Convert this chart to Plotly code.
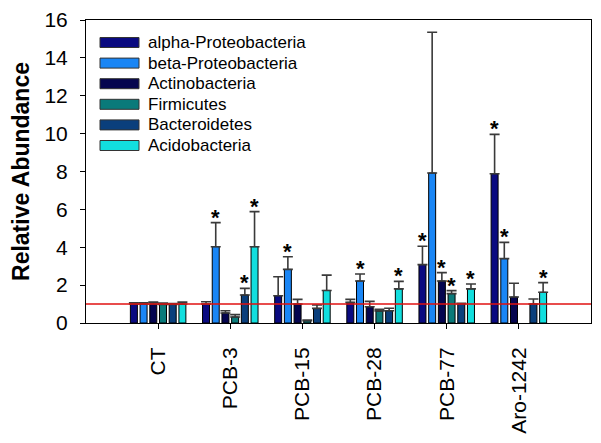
import plotly.graph_objects as go

categories = ["CT", "PCB-3", "PCB-15", "PCB-28", "PCB-77", "Aro-1242"]
series_names = ["alpha-Proteobacteria", "beta-Proteobacteria", "Actinobacteria",
                "Firmicutes", "Bacteroidetes", "Acidobacteria"]
colors = ["#0a0a80", "#1a86f5", "#05054f", "#0a7a7a", "#0a3f7c", "#12dede"]

alpha_vals = [1.0, 1.0, 1.44, 1.09, 3.08, 7.88]
alpha_err = [0.07, 0.12, 1.0, 0.16, 0.97, 2.08]
beta_vals = [1.0, 4.03, 2.83, 2.22, 7.92, 3.40]
beta_err = [0.07, 1.27, 0.67, 0.37, 7.43, 0.86]
actino_vals = [1.0, 0.53, 1.0, 0.86, 2.22, 1.37]
actino_err = [0.1, 0.12, 0.25, 0.28, 0.44, 0.73]
firm_vals = [0.98, 0.32, 0.12, 0.63, 1.55, None]
firm_err = [0.07, 0.12, 0.04, 0.09, 0.16, None]
bact_vals = [0.98, 1.48, 0.77, 0.65, 1.02, 1.0]
bact_err = [0.05, 0.35, 0.18, 0.13, 0.02, 0.27]
acido_vals = [1.0, 4.03, 1.72, 1.80, 1.80, 1.62]
acido_err = [0.1, 1.85, 0.81, 0.40, 0.26, 0.51]

values = [alpha_vals, beta_vals, actino_vals, firm_vals, bact_vals, acido_vals]
errors = [alpha_err, beta_err, actino_err, firm_err, bact_err, acido_err]

# significance stars: (series index, category index)
stars = [(1, 1), (4, 1), (5, 1), (1, 2), (1, 3), (5, 3),
         (0, 4), (2, 4), (3, 4), (5, 4), (0, 5), (1, 5), (5, 5)]

y_ticks = [0, 2, 4, 6, 8, 10, 12, 14, 16]
reference_level = 1

FONT = "Arial, Liberation Sans, sans-serif"
OFF = 8  # default page body margin
W, H = 601 - OFF, 443 - OFF
L, T = 86 - OFF, 20 - OFF
R = W - (591 - OFF)
B = H - (323 - OFF)
PW, PH = W - L - R, H - T - B

fig = go.Figure()
for name, col, vals, errs in zip(series_names, colors, values, errors):
    fig.add_trace(go.Bar(
        x=categories, y=vals, name=name,
        marker=dict(color=col, line=dict(color="black", width=1)),
        error_y=dict(type="data", array=errs, symmetric=False,
                     arrayminus=[0] * len(errs), color="#3a3a3a",
                     thickness=1.6, width=5),
        showlegend=False,
    ))

pitch = (1 - 0.193) * (PW / 7) / 6
annotations = []
for si, ci in stars:
    annotations.append(dict(
        x=categories[ci], y=values[si][ci] + errors[si][ci],
        xref="x", yref="y", text="<b>*</b>", showarrow=False,
        xshift=(si - 2.5) * pitch, yshift=-9, yanchor="bottom",
        font=dict(family=FONT, size=22, color="black"),
    ))

# manual legend (page pixel coords -> paper)
shapes = []
def px2paper_x(px):
    return (px - OFF - L) / PW
def px2paper_y(py):
    return (H - B - (py - OFF)) / PH

for i, (name, col) in enumerate(zip(series_names, colors)):
    cy = 42.5 + i * 20.6
    shapes.append(dict(type="rect", xref="paper", yref="paper",
                       x0=px2paper_x(100), x1=px2paper_x(139),
                       y0=px2paper_y(cy + 5), y1=px2paper_y(cy - 5),
                       fillcolor=col, line=dict(color="#333333", width=1)))
    annotations.append(dict(x=px2paper_x(146), y=px2paper_y(cy), xref="paper", yref="paper",
                            text=name, showarrow=False, xanchor="left", yanchor="middle",
                            font=dict(family=FONT, size=17, color="black")))

shapes.append(dict(type="line", xref="paper", yref="y", x0=0, x1=1,
                   y0=reference_level, y1=reference_level,
                   line=dict(color="#e01010", width=1.5), layer="above"))

fig.update_layout(
    width=W, height=H, margin=dict(l=L, r=R, t=T, b=B, pad=0, autoexpand=False),
    paper_bgcolor="white", plot_bgcolor="white",
    barmode="group", bargap=0.193, bargroupgap=0.28,
    font=dict(family=FONT, color="black"),
    shapes=shapes, annotations=annotations, showlegend=False,
    xaxis=dict(range=[-1, 6], tickangle=-90, ticks="outside", ticklen=5,
               tickcolor="black", tickfont=dict(size=21, family=FONT),
               showline=True, linecolor="black", linewidth=1, mirror=True,
               showgrid=False, ticklabelstandoff=10, automargin=False),
    yaxis=dict(range=[0, 16], tickvals=y_ticks, ticks="outside", ticklen=5,
               tickcolor="black", tickfont=dict(size=21, family=FONT),
               showline=True, linecolor="black", linewidth=1, mirror=True,
               showgrid=False, zeroline=False, ticklabelstandoff=8, automargin=False,
               title=dict(text="<b>Relative Abundance</b>", font=dict(size=23, family=FONT),
                          standoff=10)),
)

fig.write_html("out.html")
